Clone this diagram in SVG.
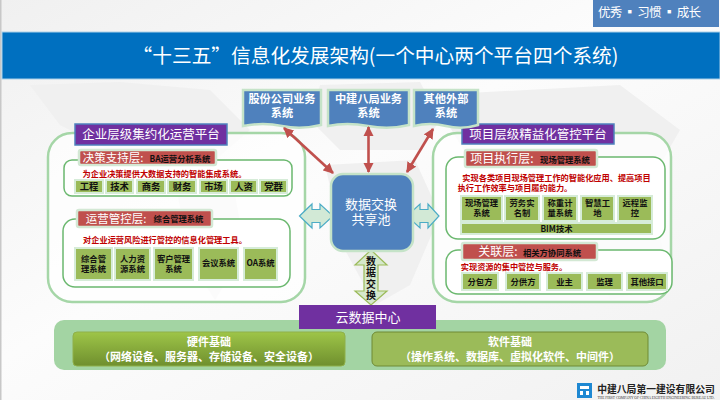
<svg xmlns="http://www.w3.org/2000/svg" width="720" height="400" viewBox="0 0 720 400">
<style>
text{font-family:"Noto Sans CJK SC","Noto Sans",sans-serif;text-anchor:middle}
.pan{fill:#fff;fill-opacity:.7;stroke:#a5d6a7;stroke-width:2.5}
.in{fill:#fff;stroke:#6bb86f;stroke-width:1.5}
.pur{fill:#7030a0}
.purb{stroke:#4f81bd;stroke-width:1.5}
.rh{fill:#c0504d;stroke:#d3e8d4;stroke-width:2.5}
.it{fill:#9bbb59;stroke:#d6ecd8;stroke-width:2}
.top{fill:#4f81bd;stroke:#c5e3c8;stroke-width:2.5}
.w{fill:#fff}
.tb{fill:#fff;font-size:11.2px;font-weight:700}
.k{fill:#111;font-weight:700}
.k9{fill:#111;font-weight:700;font-size:9.3px}
.k8{fill:#111;font-weight:700;font-size:8.3px}
.r{fill:#c00000;font-weight:700;font-size:8.2px}
.ra{stroke:#c0504d;stroke-width:2.6;fill:none;marker-start:url(#ah);marker-end:url(#ah)}
.ba{fill:#d2e9d6;stroke:#4bacc6;stroke-width:1.2}
.bt{fill:#fff;font-size:11px;font-weight:700}
</style>
<defs>
<linearGradient id="bg" x1="0" y1="0" x2="1" y2="1"><stop offset="0" stop-color="#f0f0f0"/><stop offset=".45" stop-color="#fcfcfc"/><stop offset="1" stop-color="#f1f1f1"/></linearGradient>
<linearGradient id="gb" x1="0" y1="0" x2="0" y2="1"><stop offset="0" stop-color="#9ec548"/><stop offset="1" stop-color="#6f8f2e"/></linearGradient>
<marker id="ah" viewBox="0 0 10 10" refX="9" refY="5" markerWidth="4" markerHeight="4" orient="auto-start-reverse"><path d="M0 0L10 5L0 10z" fill="#c0504d"/></marker>
</defs>
<rect width="720" height="400" fill="url(#bg)"/>
<rect width="1.5" height="400" fill="#c8c8c8"/>
<g fill="#f0f0f0">
<path d="M30 85L120 82L210 90L250 130L215 160L170 175L110 150L60 125z"/>
<path d="M175 180L235 195L245 250L215 300L190 260z"/>
<path d="M320 85L420 82L440 120L420 150L340 150L310 120z"/>
<path d="M325 165L415 160L440 215L410 285L375 305L345 250z"/>
<path d="M430 95L620 85L680 130L640 200L560 190L470 160z"/>
<path d="M590 240L660 235L670 285L610 300z"/>
</g>
<g id="badge"><rect x="593" y="0" width="126" height="27" fill="#4f81bd"/><text class="w" x="649.500" y="17" font-size="12.500" textLength="103" xml:space="preserve">优秀 ▪ 习惯 ▪ 成长</text></g>
<g id="title"><rect x="2" y="32" width="718" height="47" fill="#0070c0" stroke="#a9cfe8"/><text class="w" x="375.500" y="63" font-size="19.700">“十三五”信息化发展架构(一个中心两个平台四个系统)</text></g>

<g id="node-left">
<rect class="pan" x="48" y="133" width="257" height="169" rx="24"/>
<rect class="pur purb" x="75" y="124" width="152" height="21"/>
<text class="w" x="151" y="139" font-size="12.500">企业层级集约化运营平台</text>
</g>
<g id="node-decide">
<rect class="in" x="64" y="160" width="228" height="36" rx="8"/>
<rect class="rh" x="79" y="150" width="137" height="15" rx="2"/>
<text class="w" x="113" y="161.500" font-size="11.500">决策支持层:</text>
<text class="k" x="180" y="161.500" font-size="8.300">BA运营分析系统</text>
<text class="r" x="164.500" y="177">为企业决策提供大数据支持的智能集成系统。</text>
<rect class="it" x="75" y="180" width="28" height="13"/><text class="k9" x="89" y="190">工程</text>
<rect class="it" x="106" y="180" width="27" height="13"/><text class="k9" x="119.500" y="190">技术</text>
<rect class="it" x="137" y="180" width="28" height="13"/><text class="k9" x="151" y="190">商务</text>
<rect class="it" x="168" y="180" width="28" height="13"/><text class="k9" x="182" y="190">财务</text>
<rect class="it" x="200" y="180" width="27" height="13"/><text class="k9" x="213.500" y="190">市场</text>
<rect class="it" x="230" y="180" width="27" height="13"/><text class="k9" x="243.500" y="190">人资</text>
<rect class="it" x="260" y="180" width="27" height="13"/><text class="k9" x="273.500" y="190">党群</text>
</g>
<g id="node-ops">
<rect class="in" x="63" y="219" width="227" height="68" rx="12"/>
<rect class="rh" x="77" y="210" width="135" height="17" rx="2"/>
<text class="w" x="116" y="222.500" font-size="11.500">运营管控层:</text>
<text class="k" x="178.500" y="222" font-size="8.300">综合管理系统</text>
<text class="r" x="165" y="243">对企业运营风险进行管控的信息化管理工具。</text>
<rect class="it" x="75" y="248" width="37" height="32"/><text class="k8"><tspan x="93.500" y="262">综合管</tspan><tspan x="93.500" y="272">理系统</tspan></text>
<rect class="it" x="115" y="248" width="35" height="32"/><text class="k8"><tspan x="132.500" y="262">人力资</tspan><tspan x="132.500" y="272">源系统</tspan></text>
<rect class="it" x="154" y="248" width="39" height="32"/><text class="k8"><tspan x="173.500" y="262">客户管理</tspan><tspan x="173.500" y="272">系统</tspan></text>
<rect class="it" x="199" y="248" width="39" height="32"/><text class="k8" x="218.500" y="266">会议系统</text>
<rect class="it" x="244" y="248" width="33" height="32"/><text class="k8" x="260.500" y="266">OA系统</text>
</g>

<g id="node-right">
<rect class="pan" x="433" y="133" width="238" height="169" rx="24"/>
<rect class="pur purb" x="462" y="124" width="152" height="20"/>
<text class="w" x="538" y="139" font-size="12.500">项目层级精益化管控平台</text>
</g>
<g id="node-exec">
<rect class="in" x="446" y="157" width="219" height="82" rx="12"/>
<rect class="rh" x="465" y="150" width="132" height="17" rx="2"/>
<text class="w" x="502" y="163" font-size="12">项目执行层:</text>
<text class="k" x="565" y="162.500" font-size="8.300">现场管理系统</text>
<text class="r"><tspan x="556.500" y="181">实现各类项目现场管理工作的智能化应用、提高项目</tspan><tspan x="515" y="190.500">执行工作效率与项目履约能力。</tspan></text>
<rect class="it" x="461" y="196" width="41" height="25"/><text class="k8"><tspan x="481.500" y="206">现场管理</tspan><tspan x="481.500" y="216">系统</tspan></text>
<rect class="it" x="505" y="196" width="34" height="25"/><text class="k8"><tspan x="522" y="206">劳务实</tspan><tspan x="522" y="216">名制</tspan></text>
<rect class="it" x="543" y="196" width="34" height="25"/><text class="k8"><tspan x="560" y="206">称重计</tspan><tspan x="560" y="216">量系统</tspan></text>
<rect class="it" x="581" y="196" width="33" height="25"/><text class="k8"><tspan x="597.500" y="206">智慧工</tspan><tspan x="597.500" y="216">地</tspan></text>
<rect class="it" x="618" y="196" width="34" height="25"/><text class="k8"><tspan x="635" y="206">远程监</tspan><tspan x="635" y="216">控</tspan></text>
<rect class="it" x="461" y="223" width="191" height="11"/><text class="k8" x="556.500" y="232">BIM技术</text>
</g>
<g id="node-rel">
<rect class="in" x="446" y="250" width="226" height="44" rx="12"/>
<rect class="rh" x="462" y="243" width="135" height="17" rx="2"/>
<text class="w" x="498" y="256" font-size="12">关联层:</text>
<text class="k" x="552" y="255.500" font-size="8.300">相关方协同系统</text>
<text class="r" x="514" y="270">实现资源的集中管控与服务。</text>
<rect class="it" x="462" y="273" width="36" height="17"/><text class="k8" x="480" y="284.500">分包方</text>
<rect class="it" x="506" y="273" width="34" height="17"/><text class="k8" x="523" y="284.500">分供方</text>
<rect class="it" x="547" y="273" width="35" height="17"/><text class="k8" x="564.500" y="284.500">业主</text>
<rect class="it" x="587" y="273" width="35" height="17"/><text class="k8" x="604.500" y="284.500">监理</text>
<rect class="it" x="627" y="273" width="40" height="17"/><text class="k8" x="647" y="284.500">其他接口</text>
</g>

<g id="node-biz1"><path class="top" d="M243 90H321V125Q301 130 282 126T243 126z"/><text class="tb"><tspan x="282" y="103">股份公司业务</tspan><tspan x="282" y="117">系统</tspan></text></g>
<g id="node-biz2"><path class="top" d="M328 90H409V125Q389 130 368 126T328 126z"/><text class="tb"><tspan x="368.500" y="103">中建八局业务</tspan><tspan x="368.500" y="117">系统</tspan></text></g>
<g id="node-biz3"><path class="top" d="M414 90H478V125Q462 130 446 126T414 126z"/><text class="tb"><tspan x="446" y="103">其他外部</tspan><tspan x="446" y="117">系统</tspan></text></g>

<g id="connectors">
<path class="ra" d="M284 128L333 173"/>
<path class="ra" d="M368.500 127V172"/>
<path class="ra" d="M433 129L407 172"/>
<path class="ba" d="M299.500 216L312 204V209.500H320V204L333 216L320 228V222.500H312V228z"/>
<path class="ba" d="M407 216L420 204V209.500H428V204L439 216L428 228V222.500H420V228z"/>
<path class="ba" style="fill:#d6e8cc;stroke:#9bbb59" d="M371 250L387 265H378V291H387L371 305L355 291H364V265H355z"/>
</g>
<g id="node-center">
<rect x="331" y="174" width="82" height="77" rx="12" fill="#4f81bd" stroke="#c5e3c8" stroke-width="2.500"/>
<text class="w" font-size="13"><tspan x="371" y="209">数据交换</tspan><tspan x="371" y="224">共享池</tspan></text>
</g>
<text class="k" x="371" y="279" font-size="10" letter-spacing="1.500" style="writing-mode:vertical-rl">数据交换</text>

<g id="node-cloud">
<rect x="54" y="320" width="612" height="50" rx="10" fill="#a3d4a3"/>
<rect x="299" y="305" width="137" height="24" fill="#7030a0"/>
<text class="w" x="368" y="321.500" font-size="13">云数据中心</text>
</g>
<g id="node-hw">
<rect x="73" y="332" width="272" height="34" rx="4" fill="url(#gb)" stroke="#8fb04a"/>
<text class="bt"><tspan x="209" y="346">硬件基础</tspan><tspan x="209" y="361">（网络设备、服务器、存储设备、安全设备）</tspan></text>
</g>
<g id="node-sw">
<rect x="372" y="332" width="276" height="34" rx="5" fill="#9bbb59" stroke="#6f8a35"/>
<text class="bt"><tspan x="510" y="346">软件基础</tspan><tspan x="510" y="361">（操作系统、数据库、虚拟化软件、中间件）</tspan></text>
</g>
<g id="logo">
<rect x="577" y="383" width="15" height="15" fill="#1e88d2"/>
<path d="M580 386h9v3h-9zM580 391h3v4h-3zM586 391h3v4h-3z" fill="#fff"/>
<text x="656" y="393" font-size="9.800" font-weight="700" fill="#222">中建八局第一建设有限公司</text>
<text x="656" y="398.500" font-size="3.600" fill="#333" style="font-family:'Liberation Serif',serif">THE FIRST COMPANY OF CHINA EIGHTH ENGINEERING BUREAU LTD.</text>
</g>
</svg>
